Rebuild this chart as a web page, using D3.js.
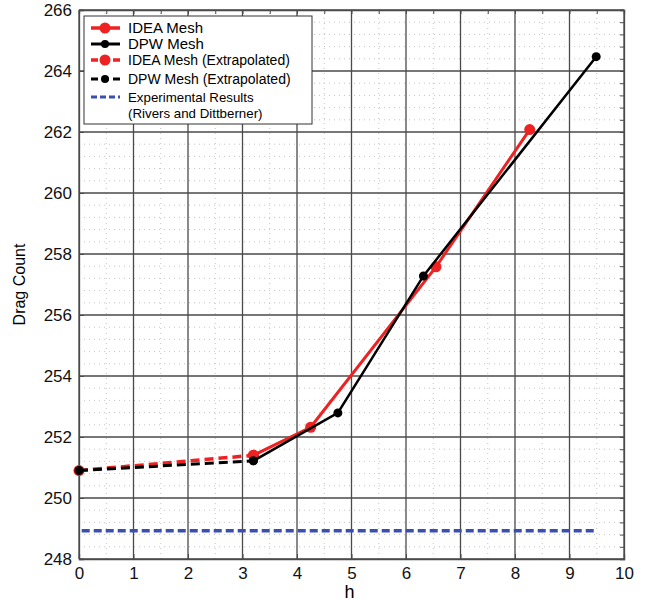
<!DOCTYPE html>
<html>
<head>
<meta charset="utf-8">
<script src="https://cdn.jsdelivr.net/npm/d3@7"></script>
<style>
body { margin: 0; background: #fff; }
text { font-family: "Liberation Sans", Arial, sans-serif; }
</style>
</head>
<body>
<div id="chart"></div>
<script>
// data
const ideaH = [3.2, 4.25, 6.55, 8.27];
const ideaDrag = [251.4, 252.32, 257.58, 262.08];
const dpwH = [3.2, 4.75, 6.32, 9.49];
const dpwDrag = [251.22, 252.79, 257.28, 264.47];
const ideaExtH = [0, 3.2];
const ideaExtDrag = [250.9, 251.4];
const dpwExtH = [0, 3.2];
const dpwExtDrag = [250.9, 251.22];
const expH = [0.05, 9.45];
const expDrag = [248.93, 248.93];
const xTicks = [0, 1, 2, 3, 4, 5, 6, 7, 8, 9, 10];
const yTicks = [248, 250, 252, 254, 256, 258, 260, 262, 264, 266];

const width = 652, height = 605;
const margin = {left: 79, right: 28, top: 10, bottom: 46};

let svg = d3.select("#chart")
	.append("svg")
	.attr("width", width)
	.attr("height", height);

let x = d3.scaleLinear().domain([0, 10]).range([margin.left, width - margin.right]);
let y = d3.scaleLinear().domain([248, 266]).range([height - margin.bottom, margin.top]);

// minor grid (dotted)
let minorX = d3.range(0.5, 10, 1);
let minorY = d3.range(248, 266.01, 0.4).filter(v => Math.abs(v - Math.round(v / 2) * 2) > 0.01);

svg.append("g").selectAll("line").data(minorX).join("line")
	.attr("x1", d => x(d)).attr("x2", d => x(d))
	.attr("y1", y(248)).attr("y2", y(266))
	.attr("stroke", "#c4c4c4").attr("stroke-width", 1).attr("stroke-dasharray", "1 4");
svg.append("g").selectAll("line").data(minorY).join("line")
	.attr("x1", x(0)).attr("x2", x(10))
	.attr("y1", d => y(d)).attr("y2", d => y(d))
	.attr("stroke", "#c4c4c4").attr("stroke-width", 1).attr("stroke-dasharray", "1 4");

// major grid
svg.append("g").selectAll("line").data(xTicks).join("line")
	.attr("x1", d => x(d)).attr("x2", d => x(d))
	.attr("y1", y(248)).attr("y2", y(266))
	.attr("stroke", "#4a4a4a").attr("stroke-width", 1.3);
svg.append("g").selectAll("line").data(yTicks).join("line")
	.attr("x1", x(0)).attr("x2", x(10))
	.attr("y1", d => y(d)).attr("y2", d => y(d))
	.attr("stroke", "#4a4a4a").attr("stroke-width", 1.3);

// axes
let xAxis = svg.append("g")
	.attr("transform", `translate(0, ${y(248)})`)
	.call(d3.axisBottom(x).tickValues(xTicks).tickSize(-5).tickPadding(8).tickFormat(d3.format("d")));
let yAxis = svg.append("g")
	.attr("transform", `translate(${x(0)}, 0)`)
	.call(d3.axisLeft(y).tickValues(yTicks).tickSize(-5).tickPadding(7).tickFormat(d3.format("d")));
svg.append("g")
	.attr("transform", `translate(0, ${y(266)})`)
	.call(d3.axisTop(x).tickValues(minorX.concat(xTicks)).tickSize(-4).tickFormat(""));
svg.append("g")
	.attr("transform", `translate(${x(10)}, 0)`)
	.call(d3.axisRight(y).tickValues(minorY.concat(yTicks)).tickSize(-4).tickFormat(""));
svg.selectAll(".domain").attr("stroke", "#4a4a4a").attr("stroke-width", 1.3);
svg.selectAll(".tick line").attr("stroke", "#4a4a4a");
xAxis.selectAll("text").attr("font-size", 17).attr("fill", "#111");
yAxis.selectAll("text").attr("font-size", 17).attr("fill", "#111");

svg.append("text")
	.attr("x", x(5) - 2).attr("y", 598)
	.attr("text-anchor", "middle").attr("font-size", 18).text("h");
svg.append("text")
	.attr("transform", `translate(25, ${y(257)}) rotate(-90)`)
	.attr("text-anchor", "middle").attr("font-size", 16).text("Drag Count");

let line = d3.line().x(d => x(d[0])).y(d => y(d[1]));
let pairs = (hs, vs) => hs.map((h, i) => [h, vs[i]]);

// experimental
svg.append("path").datum(pairs(expH, expDrag)).attr("d", line)
	.attr("fill", "none").attr("stroke", "#3a4fb0").attr("stroke-width", 3.5).attr("stroke-dasharray", "8 4");

function series(data, color, widthPx, dash, r) {
	svg.append("path").datum(data).attr("d", line)
		.attr("fill", "none").attr("stroke", color).attr("stroke-width", widthPx)
		.attr("stroke-dasharray", dash);
	svg.append("g").selectAll("circle").data(data).join("circle")
		.attr("cx", d => x(d[0])).attr("cy", d => y(d[1])).attr("r", r).attr("fill", color);
}

series(pairs(ideaExtH, ideaExtDrag), "#ee2222", 3.5, "9 5", 5.5);
series(pairs(dpwExtH, dpwExtDrag), "#000", 3, "9 5", 4.5);
series(pairs(ideaH, ideaDrag), "#ee2222", 3, null, 5.5);
series(pairs(dpwH, dpwDrag), "#000", 2.5, null, 4.5);

// legend
let legend = svg.append("g");
legend.append("rect")
	.attr("x", 84).attr("y", 16).attr("width", 228).attr("height", 108)
	.attr("fill", "#fff").attr("stroke", "#333").attr("stroke-width", 1);

let items = [
	{label: "IDEA Mesh", color: "#ee2222", dash: null, w: 3.5, r: 5.5, yy: 28, fs: 15},
	{label: "DPW Mesh", color: "#000", dash: null, w: 3, r: 4, yy: 44, fs: 15},
	{label: "IDEA Mesh (Extrapolated)", color: "#ee2222", dash: "7 4", w: 3.5, r: 5.5, yy: 60, fs: 14},
	{label: "DPW Mesh (Extrapolated)", color: "#000", dash: "7 4", w: 3, r: 4, yy: 79, fs: 14},
	{label: "Experimental Results", color: "#3a4fb0", dash: "6 3", w: 3, r: 0, yy: 97, fs: 13.3}
];
items.forEach(it => {
	legend.append("line")
		.attr("x1", 91).attr("x2", 120).attr("y1", it.yy).attr("y2", it.yy)
		.attr("stroke", it.color).attr("stroke-width", it.w).attr("stroke-dasharray", it.dash);
	if (it.r > 0)
		legend.append("circle").attr("cx", 105).attr("cy", it.yy).attr("r", it.r).attr("fill", it.color);
	legend.append("text")
		.attr("x", 128).attr("y", it.yy).attr("dy", "0.35em")
		.attr("font-size", it.fs).text(it.label);
});
legend.append("text")
	.attr("x", 128).attr("y", 113).attr("dy", "0.35em")
	.attr("font-size", 13.3).text("(Rivers and Dittberner)");
</script>
</body>
</html>
